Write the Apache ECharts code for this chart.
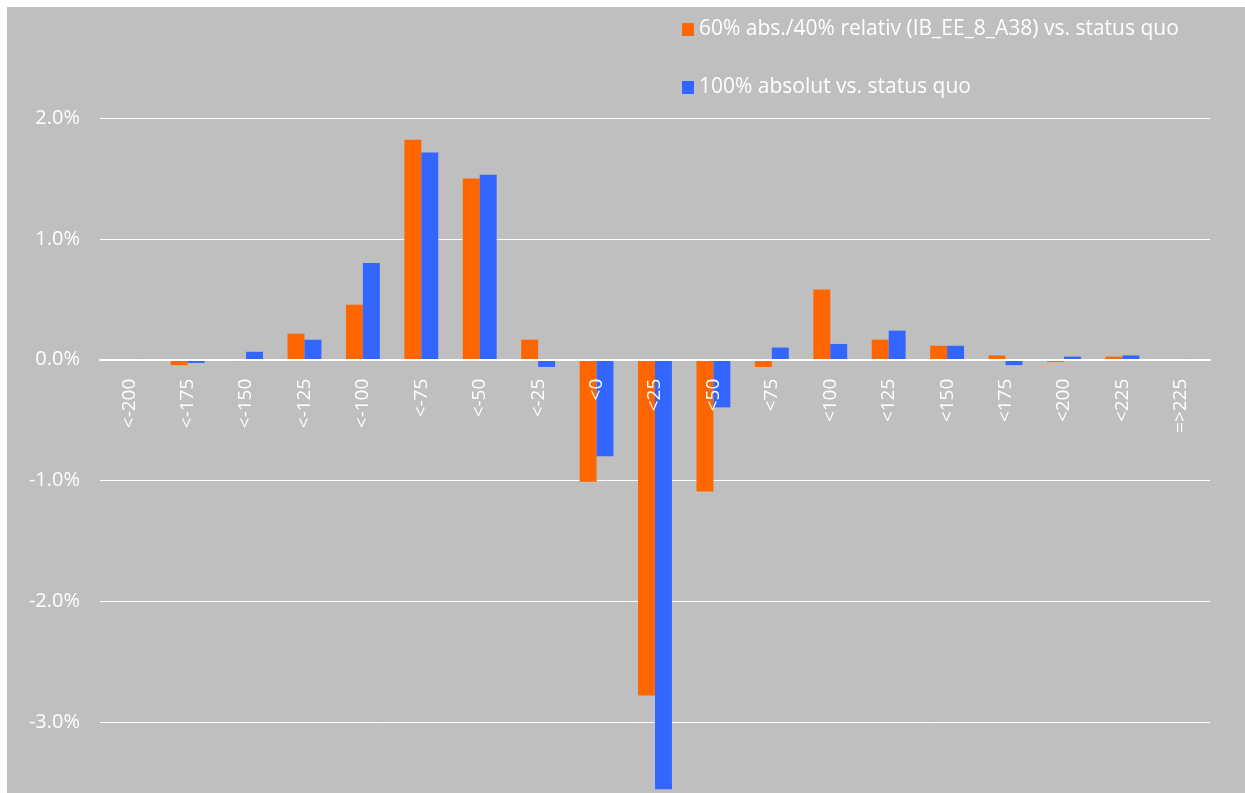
<!DOCTYPE html>
<html>
<head>
<meta charset="utf-8">
<script src="https://cdn.jsdelivr.net/npm/echarts@6/dist/echarts.min.js"></script>
<style>
html,body{margin:0;padding:0;background:#ffffff;width:1245px;height:793px;overflow:hidden;}
#chart{position:absolute;left:7px;top:7px;width:1238px;height:836px;background:#bfbfbf;}
</style>
</head>
<body>
<div id="chart"></div>
<script>
const categories = ["<-200","<-175","<-150","<-125","<-100","<-75","<-50","<-25","<0","<25","<50","<75","<100","<125","<150","<175","<200","<225","=>225"];
const seriesNames = ["60% abs./40% relativ (IB_EE_8_A38) vs. status quo","100% absolut vs. status quo"];
const mixed = [0.0, -0.045, -0.012, 0.215, 0.455, 1.82, 1.50, 0.165, -1.01, -2.78, -1.09, -0.06, 0.58, 0.165, 0.115, 0.035, -0.02, 0.025, 0.0];
const absolute = [0.006, -0.027, 0.065, 0.165, 0.80, 1.715, 1.53, -0.06, -0.80, -3.555, -0.395, 0.10, 0.13, 0.24, 0.115, -0.045, 0.025, 0.035, 0.006];
const yTicks = {min: -4, max: 2, interval: 1};

const chart = echarts.init(document.getElementById('chart'), null, {renderer: 'canvas'});
const font = '"Open Sans", "DejaVu Sans", sans-serif';
const gridTop = 111, gridBottom = 0, divH = 836;
const gridH = divH - gridTop - gridBottom;
const zeroOffset = gridH * (0 - yTicks.min) / (yTicks.max - yTicks.min);
chart.setOption({
  backgroundColor: '#bfbfbf',
  animation: false,
  textStyle: {fontFamily: font},
  legend: {
    orient: 'vertical',
    left: 670,
    top: 7,
    itemWidth: 12,
    itemHeight: 13,
    itemGap: 37,
    icon: 'rect',
    textStyle: {color: '#ffffff', fontSize: 21, fontFamily: font},
    data: seriesNames
  },
  grid: {left: 93, right: 35, top: gridTop, bottom: gridBottom, containLabel: false, outerBoundsMode: 'none'},
  xAxis: {
    type: 'category',
    data: categories,
    position: 'bottom',
    offset: -zeroOffset,
    z: 10,
    axisLine: {onZero: false, lineStyle: {color: '#ffffff', width: 2}},
    axisTick: {show: false},
    axisLabel: {rotate: 90, color: '#ffffff', fontSize: 19, margin: 19, fontFamily: font, interval: 0}
  },
  yAxis: {
    type: 'value',
    min: yTicks.min,
    max: yTicks.max,
    interval: yTicks.interval,
    axisLine: {show: false},
    axisTick: {show: false},
    splitLine: {lineStyle: {color: '#ffffff', width: 1}},
    axisLabel: {color: '#ffffff', fontSize: 20, margin: 20, fontFamily: font,
      formatter: v => v.toFixed(1) + '%'}
  },
  series: [
    {name: seriesNames[0], type: 'bar', data: mixed, itemStyle: {color: '#ff6600'}, barGap: '0%', barCategoryGap: '42%'},
    {name: seriesNames[1], type: 'bar', data: absolute, itemStyle: {color: '#3366ff'}, barGap: '0%', barCategoryGap: '42%'}
  ]
});
</script>
</body>
</html>
